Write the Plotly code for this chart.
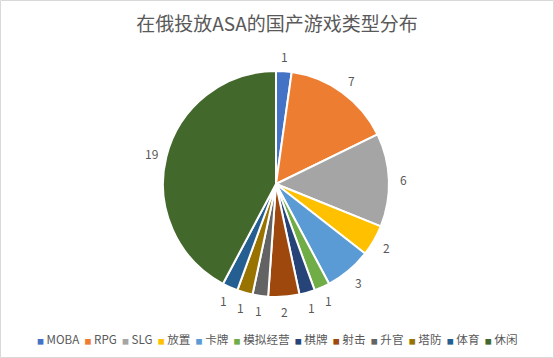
import math
import plotly.graph_objects as go

categories = ["MOBA", "RPG", "SLG", "放置", "卡牌", "模拟经营", "棋牌", "射击", "升官", "塔防", "体育", "休闲"]
counts = [1, 7, 6, 2, 3, 1, 1, 2, 1, 1, 1, 19]
colors = ["#4472C4", "#ED7D31", "#A5A5A5", "#FFC000", "#5B9BD5", "#70AD47",
          "#264478", "#9E480E", "#636363", "#997300", "#255E91", "#43682B"]
title_text = "在俄投放ASA的国产游戏类型分布"

W, H = 554, 358
FONT = "Noto Sans CJK SC, Microsoft YaHei, sans-serif"
GRAY = "#595959"

# pie geometry (pixels)
CX, CY, R = 276, 184, 113
LABEL_R = R + 15

fig = go.Figure(go.Pie(
    labels=categories,
    values=counts,
    sort=False,
    direction="clockwise",
    rotation=0,
    marker=dict(colors=colors, line=dict(color="white", width=2)),
    textinfo="none",
    domain=dict(x=[(CX - R) / W, (CX + R) / W], y=[(H - CY - R) / H, (H - CY + R) / H]),
    showlegend=False,
    hoverinfo="label+value",
))

# data labels placed at each slice's mid-angle, outside the pie (like Excel's "outside end")
total = sum(counts)
annotations = []
cum = 0
for v in counts:
    mid = (cum + v / 2) / total * 2 * math.pi
    cum += v
    px = CX + LABEL_R * math.sin(mid)
    py = CY - LABEL_R * math.cos(mid)
    annotations.append(dict(text=str(v), x=px / W, y=1 - py / H, xref="paper", yref="paper",
                            xanchor="center", yanchor="middle", showarrow=False,
                            font=dict(family=FONT, size=12, color=GRAY)))

legend_html = "  ".join(
    f"<span style='color:{c};font-size:7px'>■</span> {lab}" for lab, c in zip(categories, colors)
)
annotations.append(dict(text=legend_html, x=0.5, y=1 - 339 / H, xref="paper", yref="paper",
                        xanchor="center", yanchor="middle", showarrow=False,
                        font=dict(family=FONT, size=11.6, color=GRAY)))

fig.update_layout(
    width=W, height=H,
    margin=dict(l=0, r=0, t=0, b=0),
    paper_bgcolor="white",
    plot_bgcolor="white",
    title=dict(text=title_text, x=0.5, xanchor="center", y=1 - 24 / H, yanchor="middle",
               font=dict(family=FONT, size=19, color=GRAY)),
    annotations=annotations,
    shapes=[dict(type="rect", xref="paper", yref="paper",
                 x0=0.5 / W, x1=1 - 0.5 / W, y0=0.5 / H, y1=1 - 0.5 / H,
                 line=dict(color="#D9D9D9", width=1))],
)

fig.write_html("out.html", config={"displayModeBar": False},
               post_script="document.body.style.margin='0';")
